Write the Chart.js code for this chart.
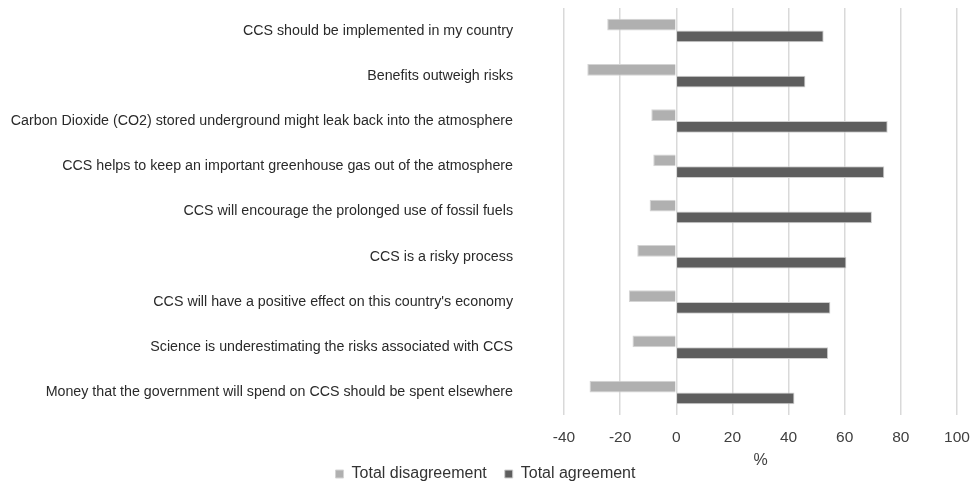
<!DOCTYPE html>
<html>
<head>
<meta charset="utf-8">
<script src="https://cdn.jsdelivr.net/npm/chart.js@4/dist/chart.umd.min.js"></script>
<style>
  html, body { margin: 0; padding: 0; background: #ffffff; }
  #wrap { width: 971px; height: 485px; position: relative; }
</style>
</head>
<body>
<div id="wrap"><canvas id="c"></canvas></div>
<script>
// Survey statements (top to bottom)
const statements = [
  "CCS should be implemented in my country",
  "Benefits outweigh risks",
  "Carbon Dioxide (CO2) stored underground might leak back into the atmosphere",
  "CCS helps to keep an important greenhouse gas out of the atmosphere",
  "CCS will encourage the prolonged use of fossil fuels",
  "CCS is a risky process",
  "CCS will have a positive effect on this country's economy",
  "Science is underestimating the risks associated with CCS",
  "Money that the government will spend on CCS should be spent elsewhere"
];

// Share of respondents (%), disagreement plotted as negative
const disagreement = [-24.6, -31.7, -8.9, -8.2, -9.5, -13.9, -16.9, -15.6, -30.9];
const agreement = [52.5, 46.0, 75.3, 74.1, 69.7, 60.6, 54.9, 54.1, 42.1];

const xTicks = [-40, -20, 0, 20, 40, 60, 80, 100];

Chart.defaults.font.family = "'Liberation Sans', Arial, sans-serif";
Chart.defaults.color = "#404040";

new Chart(document.getElementById("c"), {
  type: "bar",
  data: {
    labels: statements,
    datasets: [
      {
        label: "Total disagreement",
        data: disagreement,
        backgroundColor: "#b0b0b0",
        borderColor: "#d4d4d4",
        borderWidth: 1,
        categoryPercentage: 0.52,
        barPercentage: 1.0
      },
      {
        label: "Total agreement",
        data: agreement,
        backgroundColor: "#5e5e5e",
        borderColor: "#cfcfcf",
        borderWidth: 1,
        categoryPercentage: 0.52,
        barPercentage: 1.0
      }
    ]
  },
  options: {
    indexAxis: "y",
    responsive: true,
    maintainAspectRatio: false,
    animation: false,
    layout: { padding: { top: 8, left: 0, right: 0, bottom: -7 } },
    plugins: {
      tooltip: { enabled: false },
      legend: {
        position: "bottom",
        labels: {
          boxWidth: 8,
          boxHeight: 8,
          padding: 18,
          font: { size: 16, lineHeight: 0.5 },
          color: "#333333"
        }
      }
    },
    scales: {
      x: {
        min: -40,
        max: 100,
        afterBuildTicks: (axis) => { axis.ticks = xTicks.map(v => ({ value: v })); },
        grid: { color: "#d9d9d9", lineWidth: 1.5, drawTicks: false },
        border: { display: false },
        ticks: { font: { size: 15.5 }, padding: 13, color: "#404040" },
        title: { display: true, text: "%", font: { size: 16 }, color: "#404040", padding: { top: 0, bottom: -22 } },
        afterFit: (scale) => {
          scale.height = 33;
          scale.paddingLeft = 0;
          scale.paddingRight = 14;
        }
      },
      y: {
        grid: { display: false, drawTicks: false },
        border: { display: false },
        ticks: { font: { size: 14.25 }, padding: 51, color: "#2a2a2a", autoSkip: false },
        afterFit: (scale) => {
          scale.width = 564;
          scale.paddingTop = 0;
          scale.paddingBottom = 0;
        }
      }
    }
  }
});
</script>
</body>
</html>
